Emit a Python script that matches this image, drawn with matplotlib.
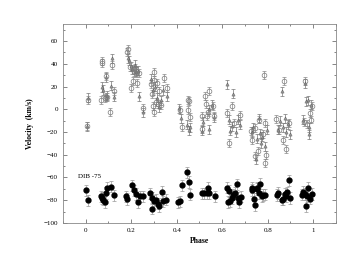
import matplotlib
matplotlib.use("Agg")
import matplotlib.pyplot as plt
import numpy as np
from matplotlib.ticker import MultipleLocator

# open circles (upper group)
circ_phase = [0.005, 0.010, 0.072, 0.072, 0.065, 0.090, 0.091, 0.085, 0.092, 0.105,
              0.117, 0.125, 0.182, 0.186, 0.193, 0.200, 0.208, 0.211, 0.213, 0.218,
              0.223, 0.234, 0.225, 0.250, 0.289, 0.292, 0.297, 0.299, 0.301, 0.300,
              0.310, 0.314, 0.318, 0.322, 0.333, 0.345, 0.359, 0.414, 0.425, 0.451,
              0.452, 0.450, 0.457, 0.509, 0.512, 0.524, 0.527, 0.534, 0.538, 0.543,
              0.560, 0.565, 0.620, 0.630, 0.645, 0.650, 0.678, 0.728, 0.732, 0.743,
              0.745, 0.757, 0.763, 0.780, 0.783, 0.787, 0.788, 0.792, 0.838, 0.850,
              0.868, 0.871, 0.880, 0.895, 0.958, 0.965, 0.974, 0.985, 0.992, 0.993]
circ_vel = [-14.4, 8.5, 42.7, 40.7, 8.0, 29.5, 11.0, 10.0, 10.5, -2.7,
            38.6, 16.0, 50.3, 53.0, 37.0, 18.5, 24.5, 35.0, 32.5, 36.0,
            32.0, 32.0, 23.0, 1.0, 22.0, 13.5, 3.0, 33.0, -2.0, 26.0,
            6.0, 23.0, 5.0, 16.5, 4.0, 27.5, 19.0, -1.0, -15.6, 8.4,
            7.0, -0.4, -7.0, -6.0, -17.0, 11.4, 5.0, -6.0, -2.0, 15.8,
            2.6, -6.0, -3.3, -29.7, 3.0, -12.0, -4.7, -19.0, -26.7, -41.4,
            -16.5, -37.0, -9.0, -22.0, 30.4, -12.0, -47.0, -40.0, -8.6, -18.5,
            -27.0, 24.5, -35.0, -12.0, -11.0, 24.5, -13.0, -3.3, -9.0, 2.6]

# open triangles / crosses (upper group)
tri_phase = [0.005, 0.012, 0.070, 0.074, 0.090, 0.095, 0.115, 0.109, 0.125, 0.185,
             0.189, 0.200, 0.205, 0.215, 0.222, 0.230, 0.232, 0.250, 0.286, 0.294,
             0.304, 0.315, 0.320, 0.330, 0.340, 0.356, 0.412, 0.420, 0.445, 0.455,
             0.460, 0.510, 0.517, 0.540, 0.540, 0.555, 0.565, 0.620, 0.628, 0.636,
             0.645, 0.648, 0.660, 0.668, 0.676, 0.730, 0.736, 0.748, 0.752, 0.762,
             0.768, 0.772, 0.775, 0.790, 0.795, 0.845, 0.852, 0.861, 0.866, 0.876,
             0.882, 0.888, 0.900, 0.955, 0.962, 0.967, 0.975, 0.980, 0.983, 0.990]
tri_vel = [-15.0, 10.0, 19.6, 17.0, 28.0, 12.0, 44.8, 20.7, 11.0, 44.8,
           43.0, 37.7, 35.0, 39.0, 33.0, 34.0, 11.4, -2.7, 27.0, 17.0,
           20.0, 10.0, 2.0, 8.0, 17.0, 11.4, 1.0, -8.0, -13.5, -18.5,
           -16.0, -19.0, -11.0, -17.4, 0.0, 4.0, -7.0, 22.0, -9.0, -19.0,
           -15.0, 13.7, -20.0, -9.0, -13.5, -20.0, -16.0, -44.0, -26.0, -8.0,
           -21.0, -30.0, -24.0, -32.6, -18.0, -18.0, -10.0, 15.8, -16.0, -8.0,
           -20.0, -13.0, -22.0, -9.0, 23.0, 7.0, 8.0, -16.0, -22.0, 4.0]

# filled circles, DIB
dib_phase = [0.003, 0.010, 0.069, 0.073, 0.076, 0.084, 0.090, 0.095, 0.112, 0.124,
             0.179, 0.183, 0.204, 0.211, 0.223, 0.230, 0.238, 0.252, 0.284, 0.292,
             0.293, 0.299, 0.311, 0.318, 0.321, 0.336, 0.340, 0.355, 0.406, 0.414,
             0.425, 0.446, 0.455, 0.457, 0.509, 0.519, 0.531, 0.538, 0.543, 0.567,
             0.619, 0.626, 0.631, 0.636, 0.641, 0.648, 0.655, 0.663, 0.670, 0.675,
             0.681, 0.729, 0.733, 0.739, 0.744, 0.751, 0.755, 0.763, 0.768, 0.773,
             0.780, 0.787, 0.839, 0.846, 0.861, 0.868, 0.875, 0.882, 0.885, 0.892,
             0.900, 0.949, 0.956, 0.963, 0.968, 0.974, 0.978, 0.985, 0.993]
dib_vel = [-71.3, -80.0, -76.5, -78.0, -79.5, -81.5, -73.6, -69.0, -68.0, -75.6,
           -76.5, -79.0, -67.0, -71.3, -74.5, -81.8, -76.5, -76.5, -74.0, -78.0,
           -87.4, -80.3, -79.5, -83.0, -85.0, -72.7, -81.0, -79.5, -81.8, -81.0,
           -67.0, -55.4, -64.0, -75.0, -74.0, -74.0, -73.5, -69.0, -74.0, -76.5,
           -69.0, -81.5, -72.0, -81.0, -78.0, -75.0, -73.5, -66.0, -78.0, -81.5,
           -77.0, -69.0, -71.0, -78.6, -84.5, -70.0, -69.0, -74.0, -65.4, -76.5,
           -75.5, -75.0, -75.3, -73.5, -79.5, -79.0, -74.5, -76.5, -73.0, -62.5,
           -78.0, -75.0, -72.5, -74.5, -85.0, -76.5, -69.0, -78.5, -74.5]

circ_err = 3.5
tri_err = 4.0
dib_err = 5.0

plt.rcParams["font.family"] = "Liberation Serif"

fig = plt.figure(figsize=(3.46, 2.67), dpi=100)
ax = fig.add_axes([0.182, 0.165, 0.789, 0.745])

ax.errorbar(dib_phase, dib_vel, yerr=dib_err, fmt="o", ms=3.5, color="black",
            ecolor="#999999", elinewidth=0.5, capsize=1.2, capthick=0.5, zorder=3)
ax.errorbar(tri_phase, tri_vel, yerr=tri_err, fmt="^", ms=2.2, mfc="none",
            mec="#666666", mew=0.5, ecolor="#777777", elinewidth=0.5,
            capsize=1.2, capthick=0.5, zorder=2)
ax.errorbar(circ_phase, circ_vel, yerr=circ_err, fmt="o", ms=3.4, mfc="none",
            mec="#7a7a7a", mew=0.5, ecolor="#888888", elinewidth=0.5,
            capsize=1.2, capthick=0.5, zorder=2)

ax.text(-0.035, -59, "DIB -75", fontsize=5, va="center", ha="left")

ax.set_xlim(-0.1, 1.1)
ax.set_ylim(-100, 75)
ax.xaxis.set_major_locator(MultipleLocator(0.2))
ax.xaxis.set_minor_locator(MultipleLocator(0.1))
ax.yaxis.set_major_locator(MultipleLocator(20))
ax.yaxis.set_minor_locator(MultipleLocator(10))
ax.set_xticks([0, 0.2, 0.4, 0.6, 0.8, 1.0])
ax.set_xticklabels(["0", "0.2", "0.4", "0.6", "0.8", "1"])
ax.tick_params(which="both", direction="in", top=True, right=True,
               labelsize=5, width=0.5, color="#555555")
ax.tick_params(which="major", length=3)
ax.tick_params(which="minor", length=1.5)
for s in ax.spines.values():
    s.set_linewidth(0.6)
    s.set_color("#888888")

ax.set_xlabel("Phase", fontsize=5.5, fontweight="bold", labelpad=3)
ax.set_ylabel("Velocity  (km/s)", fontsize=5.5, fontweight="bold", labelpad=7)

fig.savefig("out.png", dpi=100)
